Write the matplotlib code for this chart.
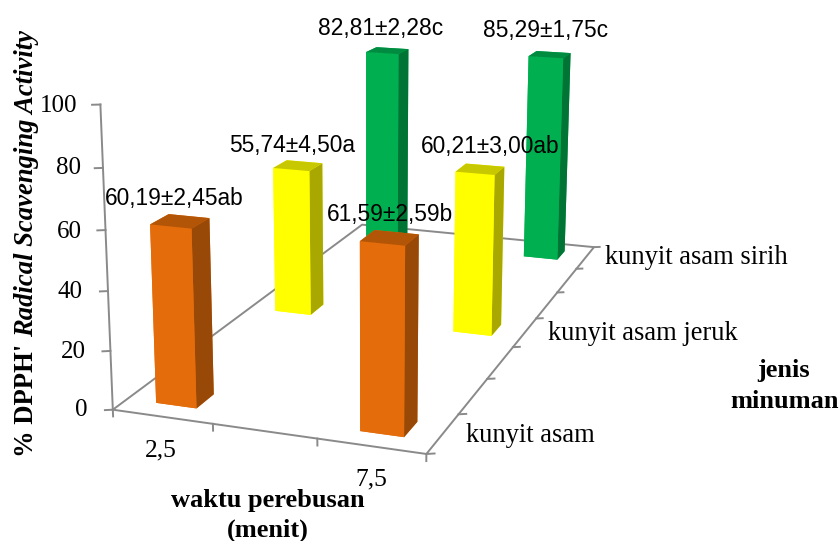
import matplotlib
matplotlib.use('Agg')
import matplotlib.pyplot as plt
import numpy as np

# chart values
times = ['2,5', '7,5']
drinks = ['kunyit asam', 'kunyit asam jeruk', 'kunyit asam sirih']
activity = [[60.19, 61.59], [55.74, 60.21], [82.81, 85.29]]
errors = [['2,45', '2,59'], ['4,50', '3,00'], ['2,28', '1,75']]
letters = [['ab', 'b'], ['a', 'ab'], ['c', 'c']]
z_ticks = [0, 20, 40, 60, 80, 100]

# bar placement on the unit floor
x_centers = [0.1666, 0.8331]
y_centers = [0.0707, 0.4950, 0.9281]
bar_w = 0.1364
bar_d = 0.0561

# faces: bottom, top, front, back, left, right
face_colors = [
    ['#E46C0A', '#B35507', '#E46C0A', '#E46C0A', '#E46C0A', '#984807'],
    ['#FFFF00', '#C8C800', '#FFFF00', '#FFFF00', '#FFFF00', '#A8A800'],
    ['#00B050', '#008C40', '#00B050', '#00B050', '#00B050', '#007434'],
]
line_color = '#8A8A8A'

# value label anchors, pixels from the top left
label_xy = [[(174, 199), (390, 215)], [(292, 145), (490, 147)], [(381, 29), (545, 31)]]

W, H = 840, 541
fig = plt.figure(figsize=(W / 100, H / 100), dpi=100)
ax = fig.add_axes([0, 0, 1, 1], projection='3d')
ax.computed_zorder = False
ax.patch.set_visible(False)
ax.set_axis_off()
ax.view_init(elev=14.3945, azim=-70.8849, roll=-0.1599)
ax.set_proj_type('persp', focal_length=0.4266)
ax.set_box_aspect((1.0589, 2.3402, 1))

# pixels per projected unit and where the projection origin lands
scale, origin_x, origin_y = 3931.89, 388.27, 353.29
x0, x1 = ax.viewLim.intervalx
y0, y1 = ax.viewLim.intervaly
ax.set_position([(origin_x + scale * x0) / W, (origin_y + scale * y0) / H,
                 scale * (x1 - x0) / W, scale * (y1 - y0) / H])


def put(x, y, s, **kw):
    fig.text(x / W, 1 - y / H, s, ha=kw.pop('ha', 'center'), va=kw.pop('va', 'center'), **kw)


# floor outline and vertical axis
line = dict(color=line_color, lw=1.4, zorder=1)
ax.plot([0, 1, 1, 0, 0], [0, 0, 1, 1, 0], [0, 0, 0, 0, 0], **line)
ax.plot([0, 0], [0, 0], [0, 100], **line)
for z in z_ticks:
    ax.plot([0, -0.021], [0, -0.005], [z, z], **line)
for x in np.arange(4) / 3:
    ax.plot([x, x], [0, 0], [0, -2.3], **line)
for y in np.arange(8) / 7:
    ax.plot([1, 1.021], [y, y + 0.005], [0, 0], **line)

# back row first so nearer bars cover it
for j in [2, 1, 0]:
    for i in range(2):
        ax.bar3d(x_centers[i] - bar_w / 2, y_centers[j] - bar_d / 2, 0,
                 bar_w, bar_d, activity[j][i],
                 color=face_colors[j], shade=False, zorder=5 - j + i * 0.1)

ax.set_xlim(0, 1)
ax.set_ylim(0, 1)
ax.set_zlim(0, 100)

sans = 'Liberation Sans'
serif = 'Liberation Serif'
for j in range(3):
    for i in range(2):
        txt = '%s±%s%s' % (('%.2f' % activity[j][i]).replace('.', ','), errors[j][i], letters[j][i])
        put(label_xy[j][i][0], label_xy[j][i][1], txt, family=sans, fontsize=16.4)

tick_xy = [(88, 410), (86, 352), (83, 292), (82, 232), (81, 168), (77, 106)]
for z, (x, y) in zip(z_ticks, tick_xy):
    put(x, y, str(z), ha='right', family=serif, fontsize=18)
put(161, 450, times[0], family=serif, fontsize=18.4)
put(371, 479, times[1], family=serif, fontsize=18.4)
put(466, 435, drinks[0], ha='left', family=serif, fontsize=19.1)
put(548, 334, drinks[1], ha='left', family=serif, fontsize=19.1)
put(605, 258, drinks[2], ha='left', family=serif, fontsize=19.1)

put(268, 500, 'waktu perebusan', family=serif, weight='bold', fontsize=19)
put(268, 530, '(menit)', family=serif, weight='bold', fontsize=19)
put(784, 370, 'jenis', family=serif, weight='bold', fontsize=19)
put(785, 402, 'minuman', family=serif, weight='bold', fontsize=19)

put(33, 457, "% DPPH'", ha='left', va='baseline', rotation=90, rotation_mode='anchor',
    family=serif, weight='bold', fontsize=19.2)
put(33, 337, 'Radical Scavenging Activity', ha='left', va='baseline', rotation=90,
    rotation_mode='anchor', family=serif, weight='bold', style='italic', fontsize=19.2)

fig.savefig('out.png', dpi=100)
